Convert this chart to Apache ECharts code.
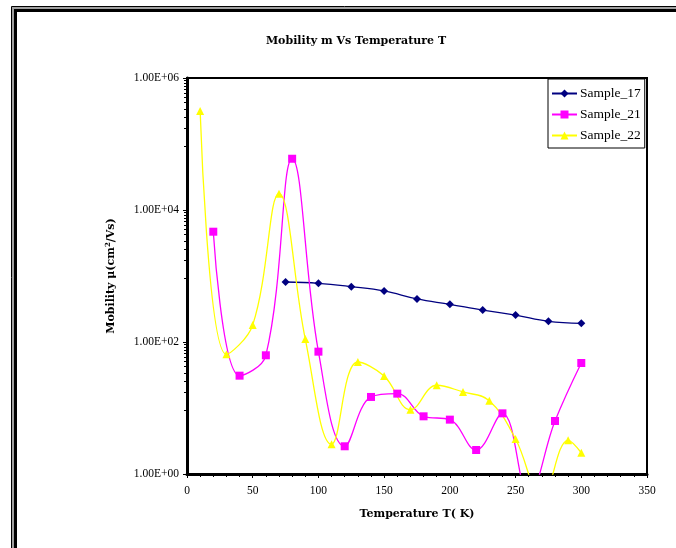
<!DOCTYPE html>
<html>
<head>
<meta charset="utf-8">
<script src="https://cdn.jsdelivr.net/npm/echarts@6/dist/echarts.min.js"></script>
<style>html,body{margin:0;padding:0;background:#fff}#c{width:676px;height:548px}</style>
</head>
<body>
<div id="c"></div>
<script>
// Data
const t17 = [75, 100, 125, 150, 175, 200, 225, 250, 275, 300];
const v17 = [811, 775, 689, 593, 449, 372, 305, 256, 206, 192];
const t21 = [20, 40, 60, 80, 100, 120, 140, 160, 180, 200, 220, 240, 260, 280, 300];
const v21 = [4690, 30.9, 62.9, 59800, 71.4, 2.63, 14.7, 16.5, 7.48, 6.66, 2.31, 8.3, 0.5, 6.35, 48.1];
const t22 = [10, 30, 50, 70, 90, 110, 130, 150, 170, 190, 210, 230, 250, 270, 290, 300];
const v22 = [316000, 65, 181, 17660, 111, 2.82, 49.8, 30.5, 9.4, 22.1, 17.5, 12.9, 3.39, 0.45, 3.24, 2.1];
const seriesNames = ['Sample_17', 'Sample_21', 'Sample_22'];
const xTicks = {min: 0, max: 350, interval: 50};
const yTicks = {min: 1, max: 1000000};

const pair = (xs, ys) => xs.map((x, i) => [x, ys[i]]);
const serif = 'Liberation Serif, Times New Roman, serif';

function fmtExp(v) {
  const e = Math.round(Math.log10(v));
  const m = v / Math.pow(10, e);
  const es = (e < 0 ? '-' : '+') + String(Math.abs(e)).padStart(2, '0');
  return m.toFixed(2) + 'E' + es;
}

const chart = echarts.init(document.getElementById('c'), null, {renderer: 'canvas'});
chart.setOption({
  animation: false,
  backgroundColor: '#fff',
  graphic: [
    {type: 'rect', shape: {x: 11.5, y: 6.5, width: 800, height: 700}, style: {fill: 'none', stroke: '#000', lineWidth: 1}},
    {type: 'rect', shape: {x: 13, y: 8, width: 800, height: 700}, style: {fill: 'none', stroke: '#a0a0a0', lineWidth: 2}},
    {type: 'rect', shape: {x: 15.5, y: 10.5, width: 800, height: 700}, style: {fill: 'none', stroke: '#000', lineWidth: 3}}
  ],
  title: {
    text: 'Mobility m Vs Temperature T',
    left: 351, top: 31, textAlign: 'center',
    textStyle: {fontFamily: 'DejaVu Serif', fontWeight: 'bold', fontSize: 11, color: '#000'}
  },
  legend: {
    data: seriesNames,
    orient: 'vertical',
    left: 548, top: 79,
    padding: [7, 4, 5, 3],
    itemGap: 6,
    itemWidth: 25, itemHeight: 10,
    borderColor: '#000', borderWidth: 1,
    backgroundColor: '#fff',
    textStyle: {fontFamily: serif, fontSize: 13.5, color: '#000', lineHeight: 15, padding: [0, 0, 0, -2]}
  },
  grid: {
    left: 187, top: 78, right: 29, bottom: 74,
    show: true, borderColor: '#000', borderWidth: 2, backgroundColor: '#fff'
  },
  xAxis: {
    type: 'value',
    min: xTicks.min, max: xTicks.max, interval: xTicks.interval,
    name: 'Temperature T( K)',
    nameLocation: 'middle', nameGap: 35,
    nameTextStyle: {fontFamily: 'DejaVu Serif', fontWeight: 'bold', fontSize: 11, color: '#000'},
    axisLine: {lineStyle: {color: '#000', width: 3}},
    axisTick: {inside: false, length: 4, lineStyle: {color: '#000', width: 1}},
    minorTick: {show: true, splitNumber: 5, length: 3, lineStyle: {color: '#000'}},
    splitLine: {show: false},
    axisLabel: {fontFamily: serif, fontSize: 11.5, color: '#000', margin: 11}
  },
  yAxis: {
    type: 'log', logBase: 10,
    min: yTicks.min, max: yTicks.max, interval: 2,
    name: 'Mobility μ(cm{sup|2}/Vs)',
    nameLocation: 'middle', nameGap: 69, nameRotate: 90,
    nameTextStyle: {fontFamily: 'DejaVu Serif', fontWeight: 'bold', fontSize: 11, color: '#000',
      rich: {sup: {fontFamily: 'DejaVu Serif', fontWeight: 'bold', fontSize: 7, color: '#000', verticalAlign: 'top', padding: [0, 0, 6, 0]}}},
    axisLine: {lineStyle: {color: '#000', width: 3}},
    axisTick: {length: 4, lineStyle: {color: '#000', width: 1}},
    minorTick: {show: true, splitNumber: 12, length: 3, lineStyle: {color: '#000'}},
    splitLine: {show: false},
    axisLabel: {fontFamily: serif, fontSize: 11.5, color: '#000', margin: 8, formatter: fmtExp}
  },
  series: [
    {
      name: seriesNames[0], type: 'line', smooth: 0.4, clip: true,
      data: pair(t17, v17),
      symbol: 'diamond', symbolSize: 8,
      itemStyle: {color: '#000080'},
      lineStyle: {color: '#000080', width: 1.3}
    },
    {
      name: seriesNames[1], type: 'line', smooth: 0.4, clip: true,
      data: pair(t21, v21),
      symbol: 'rect', symbolSize: 8,
      itemStyle: {color: '#ff00ff'},
      lineStyle: {color: '#ff00ff', width: 1.3}
    },
    {
      name: seriesNames[2], type: 'line', smooth: 0.4, clip: true,
      data: pair(t22, v22),
      symbol: 'triangle', symbolSize: 8,
      itemStyle: {color: '#ffff00'},
      lineStyle: {color: '#ffff00', width: 1.3}
    }
  ]
});
</script>
</body>
</html>
